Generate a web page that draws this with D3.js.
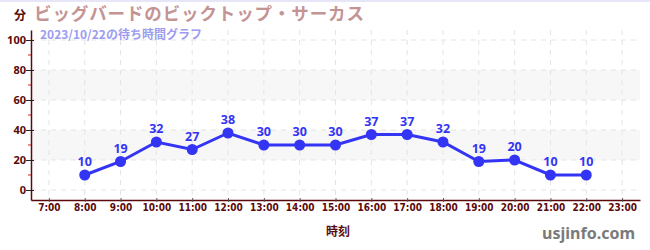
<!DOCTYPE html>
<html>
<head>
<meta charset="utf-8">
<script src="https://cdn.jsdelivr.net/npm/d3@7"></script>
<style>
  body { margin: 0; background: #fff; }
  svg { display: block; font-family: "Noto Sans CJK JP", "Noto Sans", sans-serif; }
</style>
</head>
<body>
<script>
// wait-time values, one per hour
var hours = [8, 9, 10, 11, 12, 13, 14, 15, 16, 17, 18, 19, 20, 21, 22];
var waits = [10, 19, 32, 27, 38, 30, 30, 30, 37, 37, 32, 19, 20, 10, 10];
var xTicks = d3.range(7, 24);          // 7:00 .. 23:00
var yTicks = [0, 20, 40, 60, 80, 100];
var yMinor = [10, 30, 50, 70, 90];
var bands = [[20, 40], [60, 80]];

var titleText = "ビッグバードのビックトップ・サーカス";
var subText = "2023/10/22の待ち時間グラフ";

var W = 650, H = 250;
var svg = d3.select("body").append("svg").attr("width", W).attr("height", H);

var x = d3.scaleLinear().domain([6.5, 23.5]).range([31, 640]);
var y = d3.scaleLinear().domain([-6.67, 106.67]).range([200, 30]);

var axisCol = "#5a0a0a";
var blue = "#3434f4";

// top border
svg.append("rect").attr("x", 0).attr("y", 0).attr("width", W).attr("height", 2).attr("fill", "#e6e6f8");

// bands
svg.selectAll("rect.band").data(bands).enter().append("rect")
  .attr("class", "band")
  .attr("x", x(6.5)).attr("width", x(23.5) - x(6.5))
  .attr("y", function(d) { return y(d[1]); })
  .attr("height", function(d) { return y(d[0]) - y(d[1]); })
  .attr("fill", "#f7f7f7");

// grid
var grid = svg.append("g").attr("stroke", "#e4e4e4").attr("stroke-dasharray", "5,5");
grid.selectAll("line.h").data(yTicks).enter().append("line")
  .attr("x1", x(6.5)).attr("x2", x(23.5))
  .attr("y1", function(d) { return y(d); }).attr("y2", function(d) { return y(d); });
grid.selectAll("line.v").data(xTicks).enter().append("line")
  .attr("y1", y(106.67)).attr("y2", y(-6.67))
  .attr("x1", function(d) { return x(d); }).attr("x2", function(d) { return x(d); });

// axes
var xAxis = svg.append("g").attr("transform", "translate(0,200)")
  .call(d3.axisBottom(x).tickValues(xTicks).tickSize(4).tickSizeOuter(0)
    .tickFormat(function(d) { return d + ":00"; }));
xAxis.select(".domain").attr("stroke", axisCol).attr("stroke-width", 1.5);
xAxis.selectAll(".tick line").attr("stroke", "#555").attr("transform", "translate(0,-2)");
xAxis.selectAll("text").attr("fill", axisCol).attr("font-size", 10).attr("font-weight", "bold")
  .attr("font-family", "'Liberation Sans Narrow', 'DejaVu Sans Condensed', sans-serif")
  .attr("dy", "0.9em").attr("y", 2);

var yAxis = svg.append("g").attr("transform", "translate(31,0)")
  .call(d3.axisLeft(y).tickValues(yTicks).tickSize(5).tickSizeOuter(0));
yAxis.select(".domain").attr("stroke", axisCol).attr("stroke-width", 1.5);
yAxis.selectAll(".tick line").attr("stroke", "#222").attr("x1", 3);
yAxis.selectAll("text").attr("fill", axisCol).attr("font-size", 11).attr("font-weight", "bold")
  .attr("font-family", "'Noto Sans', sans-serif").attr("x", -5);

svg.append("g").selectAll("line").data(yMinor).enter().append("line")
  .attr("x1", 28).attr("x2", 31)
  .attr("y1", function(d) { return y(d); }).attr("y2", function(d) { return y(d); })
  .attr("stroke", "#d02020");

// line + points
var pts = hours.map(function(h, i) { return {h: h, v: waits[i]}; });
svg.append("path").datum(pts)
  .attr("fill", "none").attr("stroke", blue).attr("stroke-width", 3)
  .attr("d", d3.line().x(function(d) { return x(d.h); }).y(function(d) { return y(d.v); }));
svg.selectAll("circle.pt").data(pts).enter().append("circle")
  .attr("cx", function(d) { return x(d.h); }).attr("cy", function(d) { return y(d.v); })
  .attr("r", 5.5).attr("fill", blue);
svg.selectAll("text.lbl").data(pts).enter().append("text")
  .attr("x", function(d) { return x(d.h); }).attr("y", function(d) { return y(d.v) - 8.5; })
  .attr("text-anchor", "middle").attr("fill", blue)
  .attr("font-size", 12.5).attr("font-weight", "bold").attr("font-family", "'Noto Sans', sans-serif")
  .text(function(d) { return d.v; });

// titles
svg.append("text").attr("x", 14).attr("y", 20).attr("font-size", 12).attr("font-weight", "bold")
  .attr("fill", axisCol).text("分");
svg.append("text").attr("x", 34).attr("y", 20).attr("font-size", 17.5).attr("font-weight", "bold")
  .attr("fill", "#c49494").attr("textLength", 330).text(titleText);
svg.append("text").attr("x", 40).attr("y", 38.5).attr("font-size", 12).attr("font-weight", "bold")
  .attr("fill", "#9c9cf0").text(subText);
svg.append("text").attr("x", 338).attr("y", 236).attr("text-anchor", "middle").attr("font-size", 12)
  .attr("font-weight", "bold").attr("fill", axisCol).text("時刻");
svg.append("text").attr("x", 635).attr("y", 239).attr("text-anchor", "end").attr("font-size", 16)
  .attr("font-weight", "bold").attr("fill", "#7a7a7a").attr("font-family", "'Noto Sans', sans-serif")
  .text("usjinfo.com");
</script>
</body>
</html>
